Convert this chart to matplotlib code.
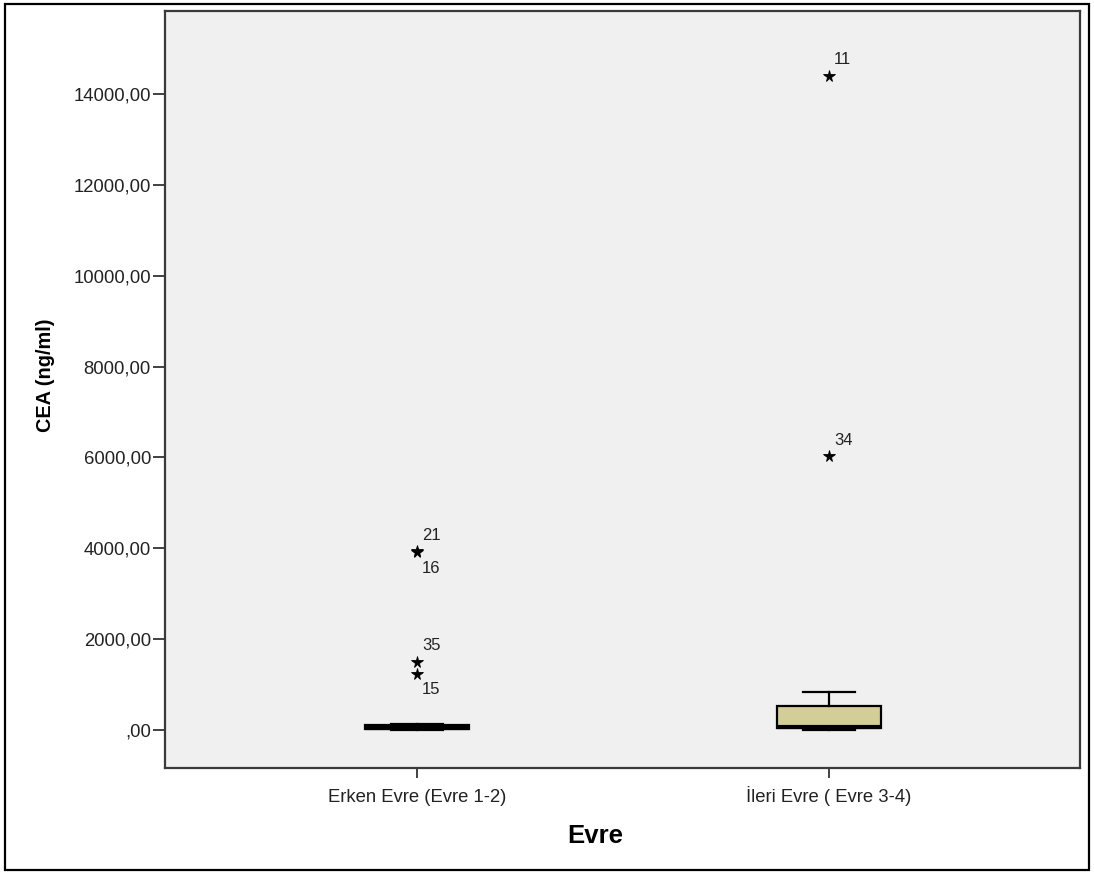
import matplotlib
matplotlib.use("Agg")
import matplotlib.pyplot as plt
from matplotlib.patches import Rectangle

plt.rcParams['font.family'] = ['Liberation Sans', 'DejaVu Sans']

# Groups and box summary values (CEA, ng/ml)
groups = ["Erken Evre (Evre 1-2)", "İleri Evre ( Evre 3-4)"]
whisker_low = [1, 1]
q1 = [15, 45]
median = [50, 60]
q3 = [105, 525]
whisker_high = [140, 840]

# Extreme values with case numbers
outlier_group = [1, 1, 1, 1, 2, 2]
outlier_value = [3930, 3910, 1500, 1235, 14400, 6030]
outlier_case = ["21", "16", "35", "15", "11", "34"]
outlier_label_side = ["above", "below", "above", "below", "above", "above"]

y_ticks = [0, 2000, 4000, 6000, 8000, 10000, 12000, 14000]


def fmt_tr(v):
    s = f"{v:.2f}".replace(".", ",")
    return s[1:] if s.startswith("0,") else s


fig = plt.figure(figsize=(10.94, 8.74), dpi=100)
fig.patch.set_facecolor("white")
fig.add_artist(Rectangle((5 / 1094, 4 / 874), 1084 / 1094, 866 / 874,
                         transform=fig.transFigure, fill=False,
                         edgecolor="black", linewidth=1.6))

ax = fig.add_axes([165 / 1094, 1 - 768 / 874, 915 / 1094, 757 / 874])
ax.set_facecolor("#F0F0F0")

stats = []
for i, name in enumerate(groups):
    stats.append(dict(label=name, whislo=whisker_low[i], q1=q1[i],
                      med=median[i], q3=q3[i], whishi=whisker_high[i],
                      fliers=[]))

ax.bxp(stats, positions=[1, 2], widths=0.253, patch_artist=True,
       showfliers=False,
       boxprops=dict(facecolor="#D3CE98", edgecolor="black", linewidth=1.6),
       medianprops=dict(color="black", linewidth=3.0),
       whiskerprops=dict(color="black", linewidth=1.6),
       capprops=dict(color="black", linewidth=1.6),
       capwidths=0.126)

ax.plot(outlier_group, outlier_value, linestyle="none", marker="*",
        markersize=8.5, color="black", markeredgewidth=0.6)

for g, v, case, side in zip(outlier_group, outlier_value, outlier_case,
                            outlier_label_side):
    dy = 11.5 if side == "above" else -11.5
    ax.annotate(case, (g, v), xytext=(3.6, dy), textcoords="offset points",
                ha="left", va="center", fontsize=12, color="#222222")

ax.set_xlim(0.388, 2.609)
ax.set_ylim(-836, 15826)
ax.set_xticks([1, 2])
ax.set_xticklabels(groups, fontsize=13.3, color="#222222")
for lbl in ax.get_xticklabels():
    lbl.set_verticalalignment("baseline")
ax.set_yticks(y_ticks)
ax.set_yticklabels([fmt_tr(v) for v in y_ticks], fontsize=13.3,
                   color="#222222")
ax.tick_params(axis="y", length=8.6, width=1.3, pad=1.5, color="#333333")
ax.tick_params(axis="x", length=7.5, width=1.3, pad=17, color="#333333")

for sp in ax.spines.values():
    sp.set_color("#3a3a3a")
    sp.set_linewidth(1.6)

ax.set_ylabel("CEA (ng/ml)", fontsize=14.3, fontweight="bold")
ax.yaxis.set_label_coords((55 - 165) / 915, (768 - 375) / 757)
ax.set_xlabel("Evre", fontsize=18.5, fontweight="bold")
ax.xaxis.set_label_coords((595 - 165) / 915, -(824 - 768) / 757)

fig.savefig("out.png", dpi=100)
